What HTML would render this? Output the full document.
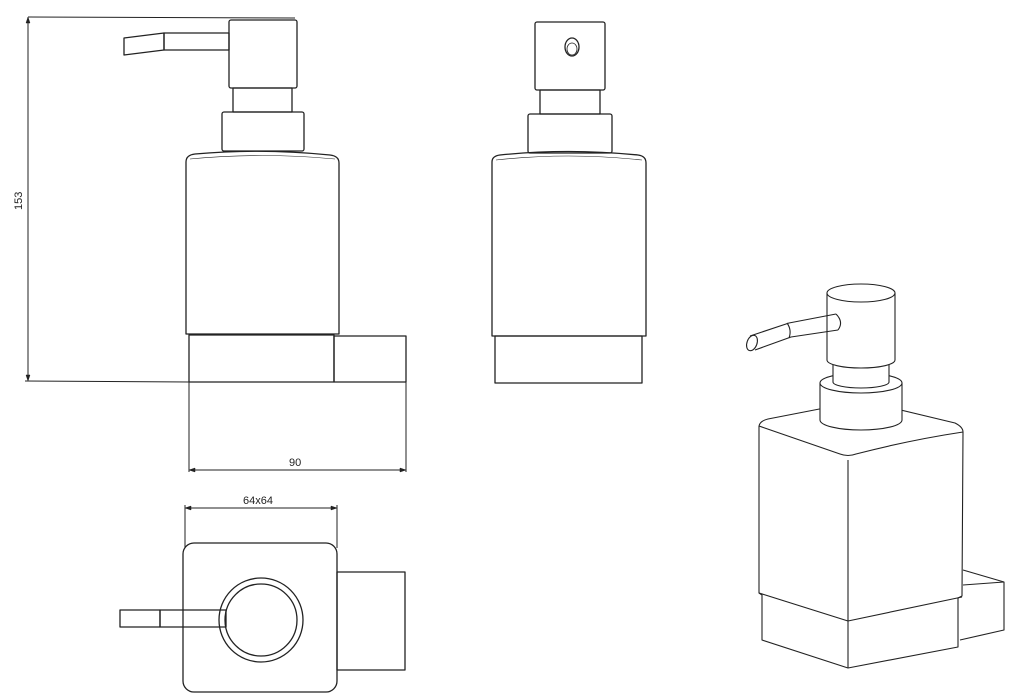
<!DOCTYPE html>
<html><head><meta charset="utf-8"><style>
html,body{margin:0;padding:0;background:#fff;}
svg{display:block;}
text{font-family:"Liberation Sans",sans-serif;font-size:11px;fill:#222;}
</style></head><body>
<svg width="1018" height="700" viewBox="0 0 1018 700" xmlns="http://www.w3.org/2000/svg">
<g fill="none" stroke="#222" stroke-width="1.3" stroke-linejoin="round">
<!-- Left side view -->
<line x1="28" y1="17" x2="295" y2="18" stroke-width="1"/>
<line x1="28" y1="17" x2="28" y2="381" stroke-width="1"/>
<line x1="25" y1="381" x2="190" y2="382" stroke-width="1"/>
<path d="M28 17 l-2 6 h4 z M28 381 l-2 -6 h4 z" fill="#222" stroke-width="0.5"/>
<rect x="229" y="20" width="68" height="68" rx="2"/>
<path d="M124 38 L164 33 L164 50 L124 55 Z"/>
<rect x="164" y="33" width="65" height="17"/>
<rect x="233" y="88" width="59" height="24"/>
<rect x="222" y="112" width="82" height="39" rx="2"/>
<path d="M186 334 L186 162 Q186 155 195 154 Q262 148 330 155 Q339 156 339 163 L339 334 Z"/>
<path d="M190 159 Q262 152 335 159" stroke-width="0.6"/>
<rect x="189" y="335" width="145" height="47"/>
<rect x="334" y="336" width="72" height="46"/>
<line x1="189" y1="382" x2="189" y2="472" stroke-width="1"/>
<line x1="406" y1="382" x2="406" y2="472" stroke-width="1"/>
<line x1="189" y1="470" x2="406" y2="470" stroke-width="1"/>
<path d="M189 470 l6 -2 v4 z M406 470 l-6 -2 v4 z" fill="#222" stroke-width="0.5"/>
<!-- Middle front view -->
<rect x="535" y="22" width="70" height="68" rx="2"/>
<ellipse cx="572" cy="47" rx="7" ry="9"/>
<ellipse cx="572" cy="49" rx="5" ry="6" stroke-width="0.8"/>
<rect x="540" y="90" width="60" height="24"/>
<rect x="528" y="114" width="84" height="39" rx="2"/>
<path d="M492 336 L492 162 Q492 156 500 155 Q568 148 638 155 Q646 156 646 163 L646 336 Z"/>
<path d="M496 160 Q568 152 642 160" stroke-width="0.6"/>
<rect x="495" y="336" width="147" height="47"/>
<!-- Bottom view -->
<line x1="185" y1="508" x2="337" y2="508" stroke-width="1"/>
<path d="M185 508 l6 -2 v4 z M337 508 l-6 -2 v4 z" fill="#222" stroke-width="0.5"/>
<line x1="185" y1="505" x2="185" y2="548" stroke-width="1"/>
<line x1="337" y1="505" x2="337" y2="548" stroke-width="1"/>
<rect x="183" y="543" width="154" height="149" rx="11"/>
<rect x="337" y="572" width="68" height="98"/>
<rect x="120" y="610" width="40" height="17"/>
<rect x="160" y="610" width="66" height="17"/>
<circle cx="261" cy="620" r="42"/>
<circle cx="261" cy="620" r="36"/>
<!-- Isometric view -->
<g stroke-width="1.1">
<path d="M963 570 L1004 582 L1004 630 L960 640"/>
<path d="M963 585 L1004 582"/>
<path d="M759 426 L759 593 L762 595 L762 640 L848 668 L958 647 L958 598 L962 596 L963 432"/>
<path d="M759 593 L848 621 L962 597"/>
<path d="M848 621 L848 668"/>
<path d="M848 460 L848 621"/>
<path d="M759 426 Q760 421 768 419 L840 405"/>
<path d="M880 405 L955 423 Q963 427 963 432"/>
<path d="M759 426 Q800 440 840 454 Q848 457 856 454 Q910 440 963 432"/>
<!-- collar -->
<path d="M820 383 L820 420 A41 10 0 0 0 902 420 L902 383 Z" fill="#fff"/>
<ellipse cx="861" cy="383" rx="41" ry="10" fill="#fff"/>
<!-- neck -->
<path d="M833 358 L833 382 A28 6 0 0 0 889 382 L889 358 Z" fill="#fff"/>
<!-- head -->
<path d="M827 293 L827 360 A34 8 0 0 0 895 360 L895 293 Z" fill="#fff"/>
<ellipse cx="861" cy="293" rx="34" ry="9" fill="#fff"/>
<!-- spout -->
<path d="M836 314 L789 323 L750 336 M838 330 L791 337 L755 350"/>
<path d="M836 314 Q844 322 838 330"/>
<ellipse cx="752" cy="343" rx="5" ry="8" transform="rotate(20 752 343)"/>
<path d="M787 323 Q792 330 789 338"/>
</g>
</g>
<text x="0" y="0" transform="translate(22 210) rotate(-90)" font-size="11">153</text>
<text x="289" y="466">90</text>
<text x="243" y="504">64x64</text>
</svg>
</body></html>
